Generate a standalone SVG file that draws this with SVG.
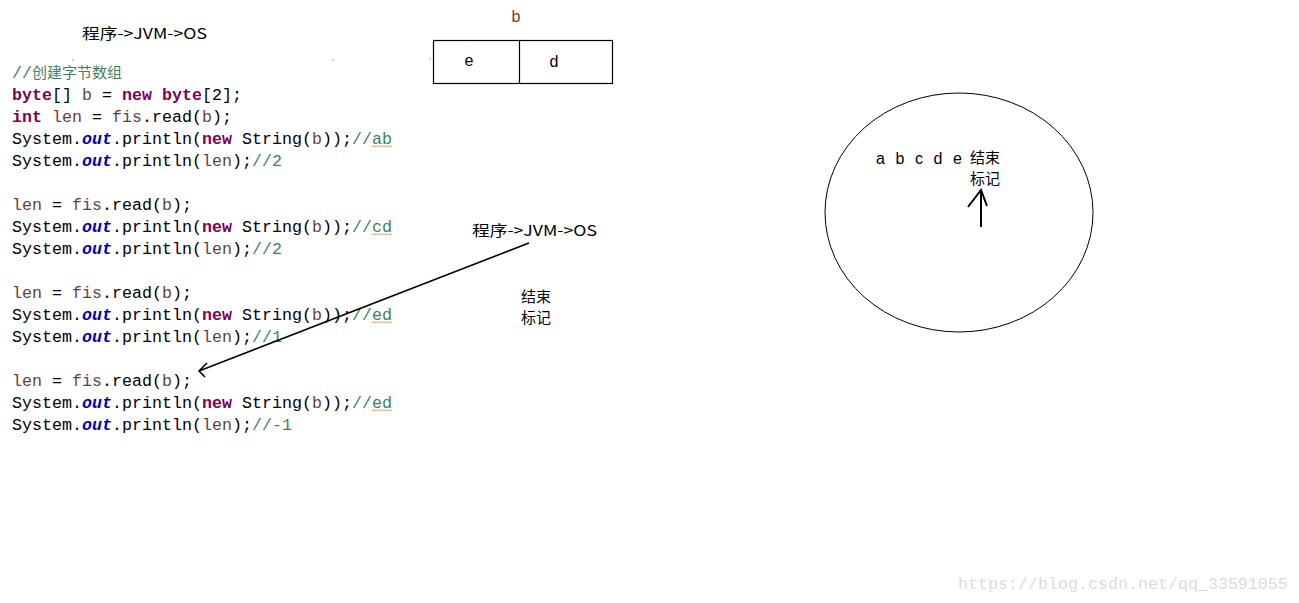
<svg xmlns="http://www.w3.org/2000/svg" width="1299" height="603" viewBox="0 0 1299 603">
<style>
.code{font-family:"Liberation Mono","Noto Sans CJK SC",monospace;font-size:16.67px;fill:#000}
.kw{fill:#7f0055;font-weight:bold}
.fld{fill:#0000c0;font-weight:bold;font-style:italic}
.var{fill:#6a3e3e}
.cm{fill:#3f7f5f}
.lbl{font-family:"Noto Sans CJK SC","Liberation Sans",sans-serif;font-size:15px;fill:#000}
.ln{stroke:#000;fill:none}
.sq{stroke:#d08a50;stroke-width:0.8;fill:none}
</style>
<rect width="1299" height="603" fill="#fff"/>
<g id="title-top"><text class="lbl" x="82" y="39" textLength="125" lengthAdjust="spacingAndGlyphs">程序-&gt;JVM-&gt;OS</text></g>
<g id="dots" fill="#888"><circle cx="73" cy="60" r="0.7"/><circle cx="333" cy="60" r="0.7"/><circle cx="430" cy="59" r="0.7"/></g>
<g id="code">
<text class="code" x="12" y="78"><tspan class="cm">//</tspan><tspan class="cm" font-size="14.5" textLength="90" lengthAdjust="spacingAndGlyphs">创建字节数组</tspan></text>
<text class="code" x="12" y="100"><tspan class="kw">byte</tspan>[] <tspan class="var">b</tspan> = <tspan class="kw">new</tspan> <tspan class="kw">byte</tspan>[2];</text>
<text class="code" x="12" y="122"><tspan class="kw">int</tspan> <tspan class="var">len</tspan> = <tspan class="var">fis</tspan>.read(<tspan class="var">b</tspan>);</text>
<text class="code" x="12" y="144">System.<tspan class="fld">out</tspan>.println(<tspan class="kw">new</tspan> String(<tspan class="var">b</tspan>));<tspan class="cm">//ab</tspan></text>
<text class="code" x="12" y="166">System.<tspan class="fld">out</tspan>.println(<tspan class="var">len</tspan>);<tspan class="cm">//2</tspan></text>
<text class="code" x="12" y="210"><tspan class="var">len</tspan> = <tspan class="var">fis</tspan>.read(<tspan class="var">b</tspan>);</text>
<text class="code" x="12" y="232">System.<tspan class="fld">out</tspan>.println(<tspan class="kw">new</tspan> String(<tspan class="var">b</tspan>));<tspan class="cm">//cd</tspan></text>
<text class="code" x="12" y="254">System.<tspan class="fld">out</tspan>.println(<tspan class="var">len</tspan>);<tspan class="cm">//2</tspan></text>
<text class="code" x="12" y="298"><tspan class="var">len</tspan> = <tspan class="var">fis</tspan>.read(<tspan class="var">b</tspan>);</text>
<text class="code" x="12" y="320">System.<tspan class="fld">out</tspan>.println(<tspan class="kw">new</tspan> String(<tspan class="var">b</tspan>));<tspan class="cm">//ed</tspan></text>
<text class="code" x="12" y="342">System.<tspan class="fld">out</tspan>.println(<tspan class="var">len</tspan>);<tspan class="cm">//1</tspan></text>
<text class="code" x="12" y="386"><tspan class="var">len</tspan> = <tspan class="var">fis</tspan>.read(<tspan class="var">b</tspan>);</text>
<text class="code" x="12" y="408">System.<tspan class="fld">out</tspan>.println(<tspan class="kw">new</tspan> String(<tspan class="var">b</tspan>));<tspan class="cm">//ed</tspan></text>
<text class="code" x="12" y="430">System.<tspan class="fld">out</tspan>.println(<tspan class="var">len</tspan>);<tspan class="cm">//-1</tspan></text>
<path class="sq" d="M372 147 l1.5 -1.5 l1.5 1.5 l1.5 -1.5 l1.5 1.5 l1.5 -1.5 l1.5 1.5 l1.5 -1.5 l1.5 1.5 l1.5 -1.5 l1.5 1.5 l1.5 -1.5 l1.5 1.5 l1.5 -1.5"/>
<path class="sq" d="M372 235 l1.5 -1.5 l1.5 1.5 l1.5 -1.5 l1.5 1.5 l1.5 -1.5 l1.5 1.5 l1.5 -1.5 l1.5 1.5 l1.5 -1.5 l1.5 1.5 l1.5 -1.5 l1.5 1.5 l1.5 -1.5"/>
<path class="sq" d="M372 323 l1.5 -1.5 l1.5 1.5 l1.5 -1.5 l1.5 1.5 l1.5 -1.5 l1.5 1.5 l1.5 -1.5 l1.5 1.5 l1.5 -1.5 l1.5 1.5 l1.5 -1.5 l1.5 1.5 l1.5 -1.5"/>
<path class="sq" d="M372 411 l1.5 -1.5 l1.5 1.5 l1.5 -1.5 l1.5 1.5 l1.5 -1.5 l1.5 1.5 l1.5 -1.5 l1.5 1.5 l1.5 -1.5 l1.5 1.5 l1.5 -1.5 l1.5 1.5 l1.5 -1.5"/>
</g>
<g id="array-b">
<text x="516" y="22" font-family="Liberation Sans, sans-serif" font-size="16" fill="#7a3a30" text-anchor="middle">b</text>
<rect x="433.5" y="40.5" width="179" height="43" fill="none" stroke="#000" stroke-width="1.2"/>
<line x1="519.5" y1="40.5" x2="519.5" y2="83.5" stroke="#000" stroke-width="1.2"/>
<text x="469" y="66" font-family="Liberation Sans, sans-serif" font-size="16" text-anchor="middle">e</text>
<text x="554" y="67" font-family="Liberation Sans, sans-serif" font-size="16" text-anchor="middle">d</text>
</g>
<g id="label-jvm"><text class="lbl" x="472" y="236" textLength="125" lengthAdjust="spacingAndGlyphs">程序-&gt;JVM-&gt;OS</text></g>
<g id="label-end"><text class="lbl" x="521" y="302">结束</text><text class="lbl" x="521" y="323">标记</text></g>
<g id="stream">
<ellipse cx="959" cy="212.5" rx="134" ry="119.5" fill="none" stroke="#000" stroke-width="1"/>
<text x="876" y="164" font-family="Liberation Sans, sans-serif" font-size="16" textLength="86" lengthAdjust="spacing">a b c d e</text>
<text class="lbl" x="970" y="163">结束</text>
<text class="lbl" x="970" y="184">标记</text>
</g>
<g id="connectors">
<path class="ln" stroke-width="1.6" d="M529 243 L199 371 M207 363 L199 371 L205 377"/>
<path class="ln" stroke-width="2" d="M981 227 L981 190 M968 207 L981 190 L987 206"/>
</g>
<g id="watermark"><text x="958" y="589" font-family="Liberation Mono, monospace" font-size="16.67" fill="#dcdcdc">https://blog.csdn.net/qq_33591055</text></g>
</svg>
